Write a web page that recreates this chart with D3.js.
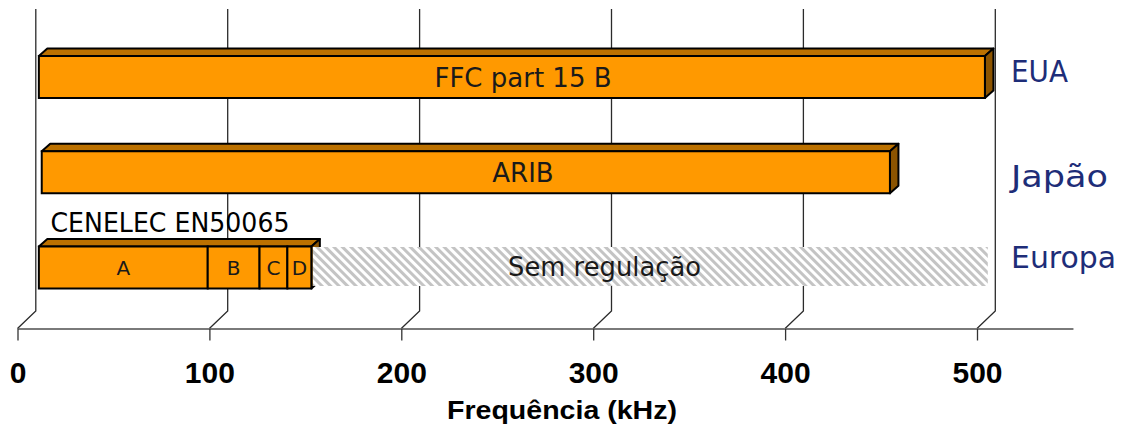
<!DOCTYPE html>
<html>
<head>
<meta charset="utf-8">
<script src="https://cdn.jsdelivr.net/npm/d3@7"></script>
<style>
  html, body { margin: 0; padding: 0; background: #ffffff; }
  svg { display: block; }
</style>
</head>
<body>
<svg id="chart" width="1123" height="427"></svg>
<script>
// Regions and the standard that governs each band (kHz)
const regions = ["EUA", "Japão", "Europa"];
const standards = ["FFC part 15 B", "ARIB", "CENELEC EN50065"];
const bandStart = [8, 9.5, 8];
const bandEnd = [501, 451.5, 150];

// CENELEC EN50065 sub-bands A..D (edges in kHz)
const cenelecBands = ["A", "B", "C", "D"];
const cenelecEdges = [8, 96, 123, 137.5, 150];

// Unregulated range in Europe (kHz)
const unregulated = [150, 502.5];

const xTicks = [0, 100, 200, 300, 400, 500];
const xMax = 550;
const axisTitle = "Frequência (kHz)";
const unregulatedLabel = "Sem regulação";

// ---- layout ----
const svg = d3.select("#chart");
const axisY = 328.5;          // front edge of the floor
const wallTop = 9;            // top of the back wall
const depthX = 18.3, depthY = 17.5;   // floor depth (oblique)
const barOffX = 6;            // bars sit slightly behind the front edge
const barDX = 8.5, barDY = 7.5;       // bar depth
const barH = 42;

const x = d3.scaleLinear().domain([0, xMax]).range([17.5, 17.5 + 1.919 * xMax]);
const y = d3.scalePoint().domain(regions).range([77, 267.5]);

const regionBaseline = d3.scaleOrdinal().domain(regions).range([82, 187, 268]);

const orange = "#FF9900", orangeTop = "#BC7100", orangeSide = "#8C5400";
const textFont = "'DejaVu Sans', 'Noto Sans', sans-serif";

// hatch for unregulated range
const defs = svg.append("defs");
const pat = defs.append("pattern")
  .attr("id", "hatch")
  .attr("patternUnits", "userSpaceOnUse")
  .attr("width", 6).attr("height", 6)
  .attr("patternTransform", "rotate(-45)");
pat.append("rect").attr("width", 6).attr("height", 6).attr("fill", "#ffffff");
pat.append("rect").attr("width", 3).attr("height", 6).attr("fill", "#c4c4c4");

// ---- back wall gridlines and floor diagonals ----
const grid = svg.append("g");
grid.selectAll("path.grid")
  .data(xTicks)
  .join("path")
  .attr("class", "grid")
  .attr("d", d => {
    const bx = x(d) + depthX;
    return `M${bx},${wallTop}V${axisY - depthY}L${x(d)},${axisY}`;
  })
  .attr("fill", "none")
  .attr("stroke", "#2b2b2b")
  .attr("stroke-width", 1.3);

// ---- x axis (front edge of floor) ----
const axis = d3.axisBottom(x)
  .tickValues(xTicks)
  .tickSize(12)
  .tickSizeOuter(0)
  .tickFormat(d3.format("d"));

const gx = svg.append("g")
  .attr("transform", `translate(0,${axisY})`)
  .call(axis);
gx.select(".domain").attr("stroke", "#7a7a7a").attr("stroke-width", 2.2);
gx.selectAll(".tick line").attr("stroke", "#333333").attr("stroke-width", 1.3);
gx.selectAll(".tick text")
  .attr("y", 54.5).attr("dy", 0)
  .attr("fill", "#000")
  .style("font-family", "'Liberation Sans', Arial, sans-serif")
  .style("font-weight", "bold")
  .style("font-size", "30px");

svg.append("text")
  .attr("x", 562).attr("y", 419)
  .attr("text-anchor", "middle")
  .style("font-family", "'Liberation Sans', Arial, sans-serif")
  .style("font-weight", "bold")
  .style("font-size", "26px")
  .attr("textLength", 230)
  .attr("lengthAdjust", "spacingAndGlyphs")
  .text(axisTitle);

// ---- 3D bar helper ----
function drawBox(g, v0, v1, yc, segments) {
  const fx0 = x(v0) + barOffX, fx1 = x(v1) + barOffX;
  const ft = yc - barH / 2, fb = yc + barH / 2;
  // top face
  g.append("path")
    .attr("d", `M${fx0},${ft}L${fx0 + barDX},${ft - barDY}L${fx1 + barDX},${ft - barDY}L${fx1},${ft}Z`)
    .attr("fill", orangeTop).attr("stroke", "#000").attr("stroke-width", 2).attr("stroke-linejoin", "round");
  // side face
  g.append("path")
    .attr("d", `M${fx1},${ft}L${fx1 + barDX},${ft - barDY}L${fx1 + barDX},${fb - barDY}L${fx1},${fb}Z`)
    .attr("fill", orangeSide).attr("stroke", "#000").attr("stroke-width", 2).attr("stroke-linejoin", "round");
  // front face(s)
  const segs = segments || [[v0, v1]];
  g.selectAll("rect.front")
    .data(segs)
    .join("rect")
    .attr("class", "front")
    .attr("x", d => x(d[0]) + barOffX)
    .attr("y", ft)
    .attr("width", d => x(d[1]) - x(d[0]))
    .attr("height", barH)
    .attr("fill", orange)
    .attr("stroke", "#000")
    .attr("stroke-width", 2);
}

const bars = svg.append("g");

// EUA and Japão bands
[0, 1].forEach(i => {
  const g = bars.append("g");
  drawBox(g, bandStart[i], bandEnd[i], y(regions[i]));
  g.append("text")
    .attr("x", 523)
    .attr("y", y(regions[i]) + 9.5)
    .attr("text-anchor", "middle")
    .attr("fill", "#1a1a1a")
    .style("font-family", textFont)
    .style("font-size", "26px")
    .text(standards[i]);
});

// Europa: CENELEC sub-bands
const cenSegs = cenelecBands.map((b, i) => [cenelecEdges[i], cenelecEdges[i + 1]]);
const gEu = bars.append("g");
drawBox(gEu, bandStart[2], bandEnd[2], y(regions[2]), cenSegs);

// unregulated hatched range
const euTop = y(regions[2]) - barH / 2;
svg.append("rect")
  .attr("x", x(unregulated[0]) + barOffX + 1.5)
  .attr("y", euTop + 0.5)
  .attr("width", x(unregulated[1]) - x(unregulated[0]) - 1.5)
  .attr("height", barH - 3)
  .attr("fill", "url(#hatch)");

svg.append("text")
  .attr("x", 508)
  .attr("y", y(regions[2]) + 8)
  .attr("fill", "#1a1a1a")
  .style("font-family", textFont)
  .style("font-size", "26px")
  .attr("textLength", 193)
  .attr("lengthAdjust", "spacingAndGlyphs")
  .text(unregulatedLabel);

gEu.selectAll("text.seg")
  .data(cenSegs)
  .join("text")
  .attr("class", "seg")
  .attr("x", d => (x(d[0]) + x(d[1])) / 2 + barOffX)
  .attr("y", y(regions[2]) + 7)
  .attr("text-anchor", "middle")
  .attr("fill", "#1a1a1a")
  .style("font-family", textFont)
  .style("font-size", "20px")
  .text((d, i) => cenelecBands[i]);

svg.append("text")
  .attr("x", 50.5)
  .attr("y", 232)
  .attr("fill", "#000")
  .style("font-family", textFont)
  .style("font-size", "26px")
  .attr("textLength", 239)
  .attr("lengthAdjust", "spacingAndGlyphs")
  .text(standards[2]);

// ---- region labels on the right ----
const regionWidth = { "EUA": 57, "Japão": 97, "Europa": 105 };
svg.append("g").selectAll("text")
  .data(regions)
  .join("text")
  .attr("x", 1011)
  .attr("y", d => regionBaseline(d))
  .attr("fill", "#1e2d78")
  .style("font-family", textFont)
  .style("font-size", "30px")
  .attr("textLength", d => regionWidth[d])
  .attr("lengthAdjust", "spacingAndGlyphs")
  .text(d => d);
</script>
</body>
</html>
